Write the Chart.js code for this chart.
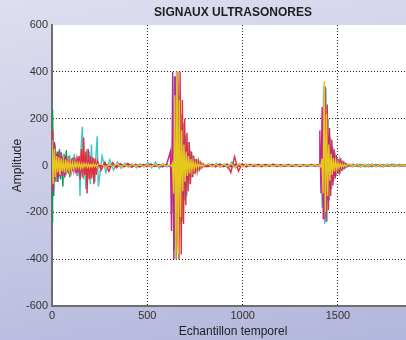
<!DOCTYPE html>
<html>
<head>
<meta charset="utf-8">
<script src="https://cdn.jsdelivr.net/npm/chart.js@4/dist/chart.umd.min.js"></script>
<style>
  body { margin: 0; }
  #wrap {
    width: 406px; height: 340px; overflow: hidden;
    background: linear-gradient(170deg, #dedef0 0%, #c9cbe6 50%, #b3b6dc 100%);
  }
  /* the axes run past the right edge of the picture, as in the original figure */
  #inner { width: 414px; height: 340px; position: relative; }
</style>
</head>
<body>
<div id="wrap"><div id="inner"><canvas id="testchart"></canvas></div></div>
<script>
// sample index of each point (dense inside the three echoes, sparse elsewhere)
const samples = [
    0,6,12,18,24,30,36,42,48,54,60,66,72,78,84,90,96,102,108,114,120,126,132,138,144,150,156,162,168,174,180,186,192,198,204,210,216,222,228,234,240,
    260,280,300,320,340,360,380,400,420,440,460,480,500,520,540,560,580,600,
    620,626,632,638,644,650,656,662,668,674,680,686,692,698,704,710,716,722,728,734,740,746,752,758,764,770,776,782,788,794,800,
    820,840,860,880,900,920,940,960,980,1000,1020,1040,1060,1080,1100,1120,1140,1160,1180,1200,1220,1240,1260,1280,1300,1320,1340,1360,1380,1400,
    1404,1410,1416,1422,1428,1434,1440,1446,1452,1458,1464,1470,1476,1482,1488,1494,1500,1506,1512,1518,1524,1530,1536,1542,1548,
    1560,1580,1600,1620,1640,1660,1680,1700,1720,1740,1760,1780,1800,1820,1840,1860
];
const xTickValues = [0, 500, 1000, 1500];
const yHiddenGrid = [600, -600];

// small arrival delay of each channel, in samples
const delayYellow = 0;
const delayMagenta = 1;
const delayRed = -2;
const delayCyan = 3;
const delayGreen = -3;

const signalYellow = [
    110,-80,70,-50,40,-30,35,-40,30,-25,20,-30,25,-20,18,-22,15,-18,12,-15,14,-10,12,-9,10,-12,8,-10,9,-6,8,-7,6,-8,5,-6,7,-5,4,-6,5,
    6,-8,5,-4,7,-5,4,-6,5,-3,4,-5,3,-4,5,-3,4,-2,
    2,-3,10,-120,300,-400,400,-380,280,-220,150,-110,90,-70,60,-45,40,-35,28,-22,18,-15,12,-10,8,-6,5,-4,3,-3,2,
    6,-5,4,-6,5,-4,8,-10,6,-5,4,-3,5,-4,3,-5,4,-3,2,-4,3,-2,4,-3,2,-3,4,-2,3,-2,
    3,-5,30,-120,360,-200,220,-130,90,-65,50,-40,32,-25,20,-16,13,-10,8,-7,6,-5,4,-3,3,
    5,-4,6,-5,4,-3,5,-6,4,-3,5,-4,3,-5,4,-3
];
const signalMagenta = [
    60,-110,100,-40,50,-70,40,-30,55,-45,30,-50,40,-30,25,-35,20,-25,30,-20,15,-25,18,-12,15,-18,10,-14,12,-8,10,-9,6,-10,8,-5,6,-7,5,-4,6,
    -5,4,-6,3,-4,6,-3,5,-4,3,-5,4,-2,5,-3,4,-5,3,
    60,-280,400,-400,380,-330,260,-220,200,-180,150,-130,110,-90,75,-60,50,-40,32,-25,20,-15,12,-10,8,-6,5,-4,3,-3,2,
    -4,5,-3,6,-5,4,-6,5,-4,3,-5,4,-3,5,-2,4,-3,5,-4,2,-3,4,-2,3,-4,2,-3,4,-2,3,
    150,-120,250,-230,300,-200,200,-150,130,-100,90,-70,60,-45,40,-30,25,-20,15,-12,10,-8,6,-5,4,
    4,-3,5,-4,3,-5,4,-2,3,-4,5,-3,2,-4,3,-2
];
const signalRed = [
    150,-90,70,-60,40,-50,60,-45,30,-40,35,-30,40,-25,30,-35,25,-20,30,-25,20,-15,25,-30,40,-60,70,-50,120,-40,60,-120,70,-60,40,-55,35,-80,30,-40,20,
    -20,15,-25,12,-10,8,-6,10,-8,5,-6,4,-5,6,-4,3,-5,4,
    -3,2,-5,20,-90,250,-350,400,-400,400,-380,280,-250,200,-170,140,-110,100,-80,60,-50,40,-35,28,-22,18,-14,11,-9,7,-5,
    -5,4,-6,5,-4,6,-30,38,-25,8,-6,5,-4,3,-5,4,-3,5,-4,3,-2,4,-3,2,-4,3,-2,3,-2,4,
    -2,4,-10,60,-230,340,-240,260,-190,160,-130,110,-85,70,-55,45,-35,28,-22,18,-14,11,-9,7,-5,
    4,-5,3,-6,5,-4,6,-3,4,-5,3,-4,5,-3,4,-2
];
const signalCyan = [
    -30,80,-60,50,-70,40,-50,60,-35,40,-55,30,-40,35,-30,45,-40,30,-25,50,-30,20,-45,30,-130,80,165,-60,40,-100,70,-50,60,-80,90,-40,30,-70,50,125,-90,
    40,-30,25,-20,15,-12,10,-8,6,-10,8,-6,12,-10,15,-12,8,-6,
    2,40,-200,380,-400,400,-330,300,-250,220,-240,180,-150,130,-130,100,-80,65,-50,45,-35,28,-22,18,-14,11,-9,7,-5,4,-3,
    8,-6,10,-8,6,-12,15,-10,8,-6,5,-4,6,-5,4,-3,5,-4,3,-5,4,-3,2,-4,3,-2,4,-3,2,-3,
    5,90,-180,340,-250,330,-240,200,-150,120,-100,80,-65,55,-45,35,-28,22,-18,14,-12,10,-8,6,-5,
    -4,6,-5,4,-6,5,-3,4,-5,3,-4,6,-3,5,-4,3
];
const signalGreen = [
    -240,240,-130,90,-70,60,-50,70,-60,40,-90,50,-40,65,-30,40,-50,30,-25,35,-20,25,-30,20,-15,25,-18,15,-20,12,-10,15,-8,10,-12,8,-6,9,-5,7,-4,
    5,-4,6,-3,4,-5,3,-4,5,-3,4,-2,3,-4,2,-3,4,-2,
    -2,4,-50,180,-360,380,-400,360,-300,250,-200,170,-140,110,-90,75,-60,50,-40,32,-25,20,-16,12,-10,8,-6,5,-4,3,-2,
    3,-4,5,-3,4,-5,3,-6,4,-3,5,-2,4,-3,2,-4,3,-2,4,-3,2,-3,2,-4,3,-2,3,-2,4,-3,
    -3,10,60,-180,250,-220,220,-170,140,-110,90,-70,60,-45,38,-30,25,-20,15,-12,10,-8,6,-5,4,
    -3,4,-2,5,-4,3,-5,2,-3,4,-2,3,-4,2,-3,4
];

function toPoints(values, delay)
{
    return values.map((v, i) => ({x: Math.max(0, samples[i] + delay), y: v}));
}

function makeSet(values, delay, color)
{
    return {
        data: toPoints(values, delay),
        borderColor: color,
        borderWidth: 1.4,
        pointRadius: 0,
        tension: 0,
        fill: false
    };
}

const whiteAxes = {
    id: 'whiteAxes',
    beforeDraw(chart) {
        const a = chart.chartArea;
        const ctx = chart.ctx;
        ctx.save();
        ctx.fillStyle = '#ffffff';
        ctx.fillRect(a.left, a.top, a.right - a.left, a.bottom - a.top);
        ctx.restore();
    }
};

const font11 = { family: 'Liberation Sans, Arial, sans-serif', size: 11 };
const font12 = { family: 'Liberation Sans, Arial, sans-serif', size: 12 };

let select = document.getElementById('testchart');
let currentchart = new Chart(select, {
    type: 'line',
    data: {
        datasets: [
            makeSet(signalYellow, delayYellow, '#e4c81e'),
            makeSet(signalMagenta, delayMagenta, '#c8208e'),
            makeSet(signalRed, delayRed, '#ea2a3a'),
            makeSet(signalCyan, delayCyan, '#3ec6c8'),
            makeSet(signalGreen, delayGreen, '#0b9a4c')
        ]
    },
    options: {
        responsive: true,
        maintainAspectRatio: false,
        animation: false,
        events: [],
        plugins: {
            legend: { display: false },
            tooltip: { enabled: false },
            title: {
                display: true,
                text: 'SIGNAUX ULTRASONORES',
                fullSize: false,
                color: '#1e1e1e',
                font: { family: 'Liberation Sans, Arial, sans-serif', size: 12, weight: 'bold', lineHeight: '14px' },
                padding: { top: 6, bottom: 5 }
            }
        },
        scales: {
            x: {
                type: 'linear',
                min: 0,
                max: 1899,
                afterFit: (s) => { s.height = 34; },
                afterBuildTicks: (s) => { s.ticks = xTickValues.map(v => ({value: v})); },
                ticks: {
                    maxRotation: 0,
                    autoSkip: false,
                    padding: 3,
                    color: '#333',
                    font: font11,
                    callback: (v) => String(v)
                },
                grid: {
                    drawTicks: false,
                    color: (c) => (c.tick && c.tick.value === 0) ? 'rgba(0,0,0,0)' : '#222',
                    lineWidth: 1
                },
                border: { color: '#6e6e6e', width: 2, dash: [1, 2] },
                title: {
                    display: true,
                    text: 'Echantillon temporel',
                    color: '#222',
                    font: font12,
                    padding: { top: 0, bottom: 1 }
                }
            },
            y: {
                min: -600,
                max: 600,
                afterFit: (s) => { s.width = 52; },
                ticks: {
                    stepSize: 200,
                    padding: 4,
                    color: '#333',
                    font: font11
                },
                grid: {
                    drawTicks: false,
                    color: (c) => (c.tick && yHiddenGrid.includes(c.tick.value)) ? 'rgba(0,0,0,0)' : '#222',
                    lineWidth: 1
                },
                border: { color: '#6e6e6e', width: 2, dash: [1, 2] },
                title: {
                    display: true,
                    text: 'Amplitude',
                    color: '#222',
                    font: font12,
                    padding: { top: 10, bottom: 0 }
                }
            }
        }
    },
    plugins: [whiteAxes]
});
</script>
</body>
</html>
